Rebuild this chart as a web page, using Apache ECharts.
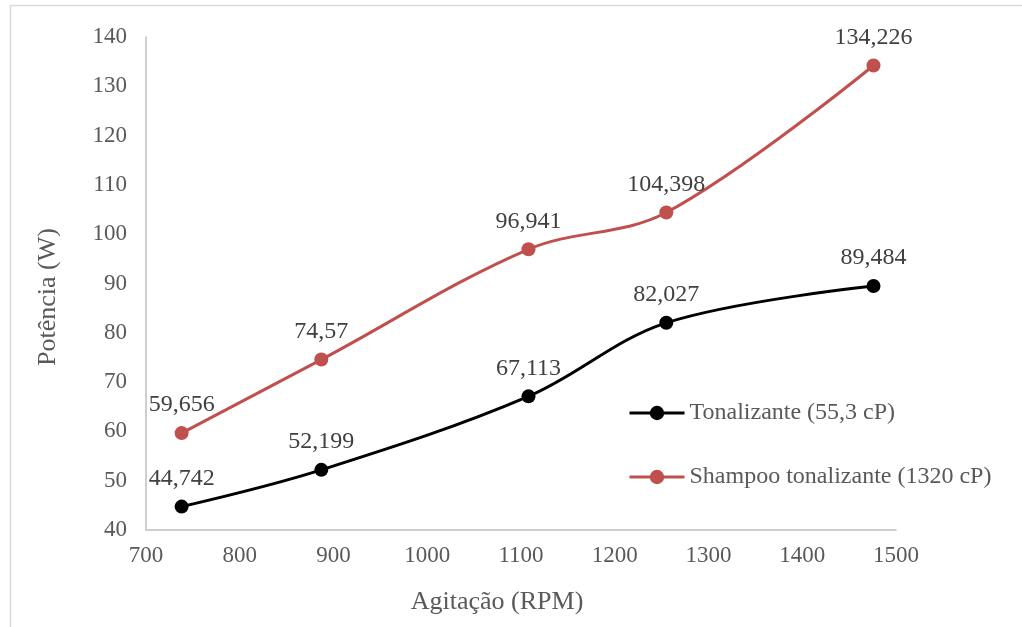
<!DOCTYPE html>
<html>
<head>
<meta charset="utf-8">
<script src="https://cdn.jsdelivr.net/npm/echarts@6/dist/echarts.min.js"></script>
<style>
  html, body { margin: 0; padding: 0; background: #fff; }
  #chart { width: 1022px; height: 627px; }
</style>
</head>
<body>
<div id="chart"></div>
<script>
// Stirring speed (RPM) and absorbed power (W) for two products
const rpm = [738, 887, 1108, 1255, 1476];
const tonalizante = [44.742, 52.199, 67.113, 82.027, 89.484];
const shampoo = [59.656, 74.57, 96.941, 104.398, 134.226];
const seriesNames = ['Tonalizante (55,3 cP)', 'Shampoo tonalizante (1320 cP)'];
const xTitle = 'Agitação (RPM)';
const yTitle = 'Potência (W)';

const FONT = '"Liberation Serif", "Times New Roman", serif';
const pairs = (ys) => rpm.map((x, i) => [x, ys[i]]);
const fmt = (p) => String(p.value[1]).replace('.', ',');

function makeSeries(name, ys, color) {
  return {
    name: name,
    type: 'line',
    data: pairs(ys),
    smooth: 0.35,
    symbol: 'circle',
    symbolSize: 14,
    lineStyle: { color: color, width: 3 },
    itemStyle: { color: color },
    label: {
      show: true,
      position: 'top',
      distance: 9,
      formatter: fmt,
      color: '#404040',
      fontFamily: FONT,
      fontSize: 24
    },
    emphasis: { disabled: true }
  };
}

const chart = echarts.init(document.getElementById('chart'));
chart.setOption({
  animation: false,
  backgroundColor: '#fff',
  grid: { left: 146, right: 126, top: 37, bottom: 97, containLabel: false },
  xAxis: {
    type: 'value',
    min: 700, max: 1500, interval: 100,
    axisLine: { show: true, lineStyle: { color: '#bfbfbf', width: 1.5 } },
    axisTick: { show: false },
    splitLine: { show: false },
    axisLabel: { color: '#595959', fontFamily: FONT, fontSize: 23, margin: 14, formatter: (v) => String(v) }
  },
  yAxis: {
    type: 'value',
    min: 40, max: 140, interval: 10,
    axisLine: { show: true, lineStyle: { color: '#bfbfbf', width: 1.5 } },
    axisTick: { show: false },
    splitLine: { show: false },
    axisLabel: { color: '#595959', fontFamily: FONT, fontSize: 23, margin: 19, formatter: (v) => String(v) }
  },
  legend: {
    orient: 'vertical',
    left: 623,
    top: 396,
    itemGap: 40,
    itemWidth: 55,
    itemHeight: 18,
    lineStyle: { width: 3 },
    textStyle: { color: '#595959', fontFamily: FONT, fontSize: 24 },
    data: seriesNames
  },
  graphic: [
    { type: 'line', shape: { x1: 10, y1: 5.5, x2: 1022, y2: 5.5 }, style: { stroke: '#d9d9d9', lineWidth: 1.5 } },
    { type: 'line', shape: { x1: 10.5, y1: 5, x2: 10.5, y2: 627 }, style: { stroke: '#d9d9d9', lineWidth: 1.5 } },
    {
      type: 'text', x: 497, y: 602,
      style: { text: xTitle, fill: '#595959', font: '26px ' + FONT, textAlign: 'center', textVerticalAlign: 'middle' }
    },
    {
      type: 'text', x: 48, y: 297, rotation: Math.PI / 2,
      style: { text: yTitle, fill: '#595959', font: '26px ' + FONT, textAlign: 'center', textVerticalAlign: 'middle' }
    }
  ],
  series: [
    makeSeries(seriesNames[0], tonalizante, '#000000'),
    makeSeries(seriesNames[1], shampoo, '#C0504D')
  ]
});
</script>
</body>
</html>
